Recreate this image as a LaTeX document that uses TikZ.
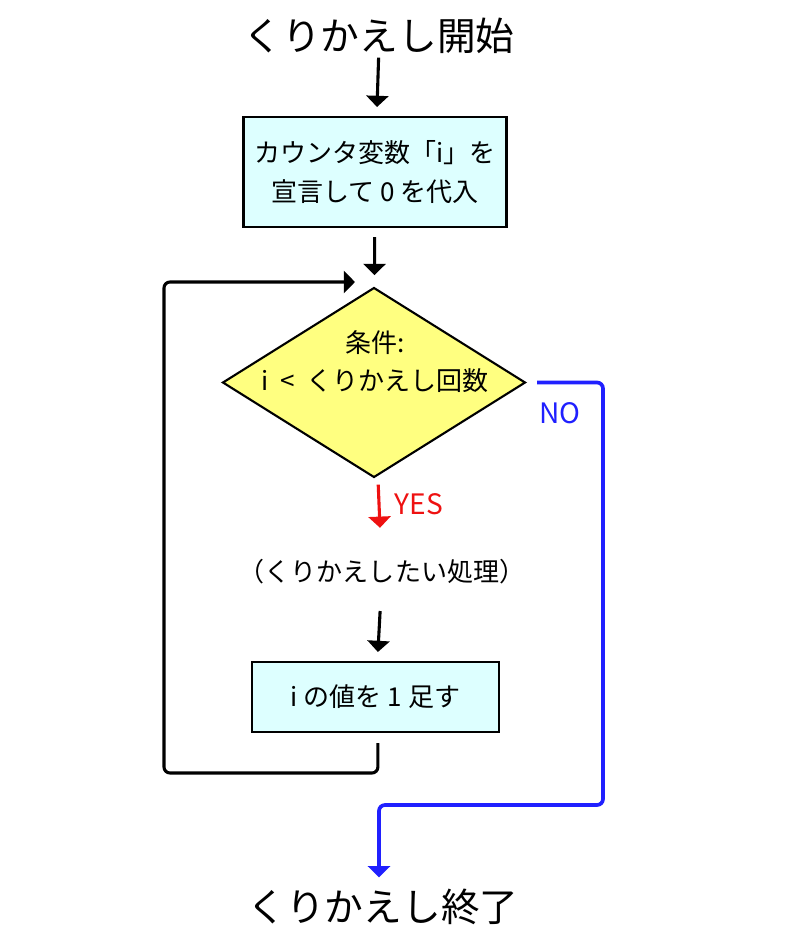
\documentclass[tikz,border=0pt]{standalone}
\usepackage{fontspec}
\setmainfont{Noto Sans CJK JP}
\usetikzlibrary{shapes.geometric,arrows.meta}

\definecolor{boxfill}{HTML}{DDFFFF}
\definecolor{condfill}{HTML}{FFFF80}
\definecolor{noblue}{HTML}{2020FF}
\definecolor{yesred}{HTML}{EE1111}

\tikzset{
	bigtxt/.style={inner sep=0pt, outer sep=0pt, font=\fontsize{27.5pt}{30pt}\selectfont,
		text height=0.88em, text depth=0.12em},
	txt/.style={inner sep=0pt, outer sep=0pt, font=\fontsize{18.5pt}{27pt}\selectfont, align=center},
	procbox/.style={draw, line width=1.5pt, fill=boxfill, inner sep=0pt, outer sep=0pt,
		font=\fontsize{18.5pt}{28pt}\selectfont, align=center},
	condbox/.style={diamond, draw, line width=1.5pt, fill=condfill, inner sep=0pt, outer sep=0pt,
		minimum width=7.55cm, minimum height=4.725cm},
	arr/.style={line width=2.2pt, -{Triangle[width=0.55cm, length=0.28cm]}},
}

\begin{document}
\begin{tikzpicture}[x=0.025cm, y=-0.025cm]
		\useasboundingbox (0, 0) rectangle (800, 950);
		
		% Start and end
		\node[bigtxt] (start) at (379, 45) {くりかえし開始};
		\node[bigtxt] (finish) at (383, 916) {くりかえし終了};
		
		% Boxes
		\node[procbox, minimum width=6.575cm, minimum height=2.75cm] (init) at (375, 172)
			{カウンタ変数「i」を\\宣言して 0 を代入};
		\node[condbox] (cond) at (374, 382.5) {};
		\node[txt] (condtxt) at (375, 362) {条件:\\i\hspace{0.45em}<\hspace{0.45em}くりかえし回数};
		\node[txt, text height=0.88em, text depth=0.12em] (work) at (382, 576) {（くりかえしたい処理）};
		\node[procbox, minimum width=6.175cm, minimum height=1.75cm] (incr) at (375.5, 697) {i の値を 1 足す};
		
		% Straight arrows
		\draw[arr, shorten <=0.14cm, shorten >=0.25cm] (start) -- (init);
		\draw[arr, shorten <=0.25cm, shorten >=0.33cm] (init) -- (cond);
		\draw[arr, yesred, shorten <=0.25cm, shorten >=1.03cm] (cond) -- (work);
		\draw[arr, shorten <=0.7cm, shorten >=0.25cm] (work) -- (incr);
		\node[font=\fontsize{20pt}{24pt}\selectfont, text=yesred, inner sep=0pt] (yes) at (419, 504) {YES};
		
		% Loop back
		\coordinate (loopin) at (355, 282);
		\draw[arr, rounded corners=0.15cm, shorten <=0.28cm] ([xshift=0.06cm]incr.south) |- (164, 773) |- (loopin);
		
		% Exit
		\draw[arr, noblue, line width=2.6pt, rounded corners=0.15cm, shorten <=0.3cm, shorten >=0.79cm]
			(cond.east) -| (603, 805) -| ([xshift=-0.1cm]finish.north);
		\node[font=\fontsize{20pt}{24pt}\selectfont, text=noblue, inner sep=0pt] (no) at (560, 413) {NO};
	\end{tikzpicture}
\end{document}
